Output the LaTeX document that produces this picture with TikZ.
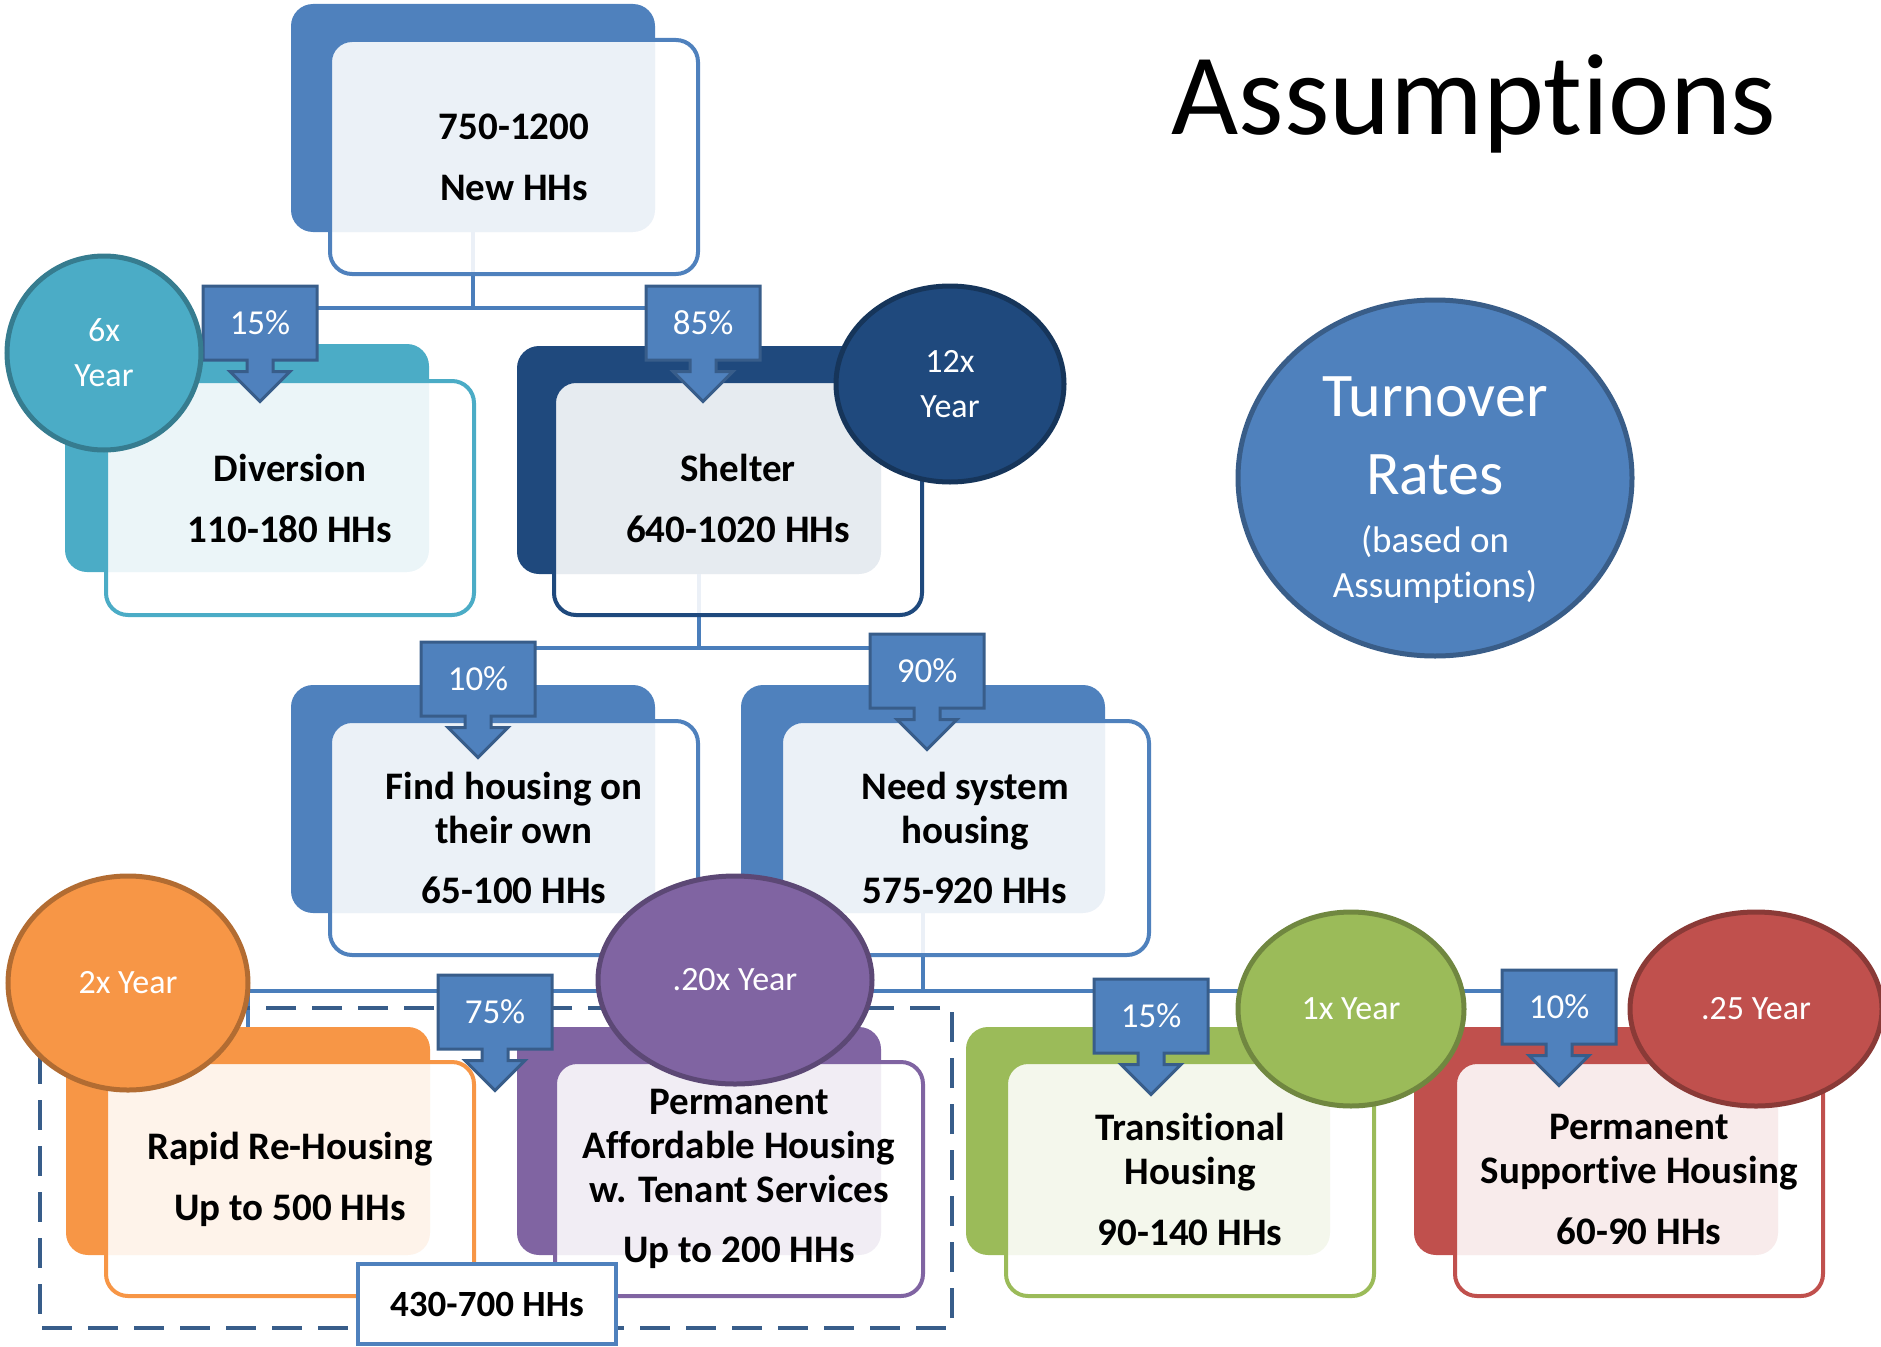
\documentclass[tikz,border=0pt]{standalone}
\usepackage{fontspec}
\setmainfont{Carlito}[Ligatures={NoCommon,NoContextual},Contextuals=NoAlternate]
\usetikzlibrary{shapes.geometric,shapes.arrows}

\definecolor{hhblue}{HTML}{4F81BD}
\definecolor{hhteal}{HTML}{4BACC6}
\definecolor{hhnavy}{HTML}{1F497D}
\definecolor{hhorange}{HTML}{F79646}
\definecolor{hhpurple}{HTML}{8064A2}
\definecolor{hhgreen}{HTML}{9BBB59}
\definecolor{hhred}{HTML}{C0504D}
\definecolor{hhline}{HTML}{4A7EBB}
\definecolor{hhedge}{HTML}{385D8A}

\tikzset{
  backbox/.style={rectangle,rounded corners=22pt,fill=#1,minimum width=364pt,minimum height=228pt},
  frontbox/.style={rectangle,rounded corners=22pt,draw=#1,line width=4pt,fill=white,fill opacity=0.89,text opacity=1,
    minimum width=368pt,minimum height=234pt,inner sep=0pt,align=center,font=\fontsize{39}{44}\selectfont\bfseries},
  pct/.style={shape=arrow box,fill=hhblue,draw=hhedge,line width=3pt,minimum width=114pt,minimum height=74pt,inner sep=0pt,
    arrow box arrows={south:40pt},arrow box shaft width=26pt,arrow box head extend=17pt,
    text=white,font=\fontsize{35}{40}\selectfont},
  ring/.style={ellipse,fill=#1,draw=#1!72!black,line width=5pt,inner sep=0pt,text=white,align=center,
    font=\fontsize{34}{45}\selectfont},
  link/.style={draw=hhline,line width=4.5pt},
}

\begin{document}
\begin{tikzpicture}[x=1pt,y=-1pt]
\useasboundingbox (0,0) rectangle (1881,1346);

\node[font=\fontsize{116}{130}\selectfont] (title) at (1474,104) {Assumptions};

% back shapes
\node[backbox=hhblue] (newbk) at (473,118) {};
\node[backbox=hhteal] (divbk) at (247,458) {};
\node[backbox=hhnavy] (shelbk) at (699,460) {};
\node[backbox=hhblue] (findbk) at (473,799) {};
\node[backbox=hhblue] (needbk) at (923,799) {};
\node[backbox=hhorange] (rrhbk) at (248,1141) {};
\node[backbox=hhpurple] (pahbk) at (699,1141) {};
\node[backbox=hhgreen] (thbk) at (1148,1141) {};
\node[backbox=hhred] (pshbk) at (1596,1141) {};

% org chart lines
\coordinate (j1) at (473,308);
\coordinate (j2) at (699,648);
\coordinate (j3) at (923,991);
\draw[link] (newbk.south) -- (j1) -| (divbk.north);
\draw[link] (j1) -| (shelbk.north);
\draw[link] (shelbk.south) -- (j2) -| (findbk.north);
\draw[link] (j2) -| (needbk.north);
\draw[link] (needbk.south) -- (j3) -| (rrhbk.north);
\draw[link] (j3) -| (pahbk.north);
\draw[link] (j3) -| (thbk.north);
\draw[link] (j3) -| (pshbk.north);

% front boxes
\node[frontbox=hhblue] (new) at (514,157) {750-1200\\[17pt]New HHs};
\node[frontbox=hhteal] (div) at (290,498) {Diversion\\[17pt]110-180 HHs};
\node[frontbox=hhnavy] (shel) at (738,498) {Shelter\\[17pt]640-1020 HHs};
\node[frontbox=hhblue] (find) at (514,838) {Find housing on\\their own\\[16pt]65-100 HHs};
\node[frontbox=hhblue] (need) at (965,838) {Need system\\housing\\[16pt]575-920 HHs};
\node[frontbox=hhorange] (rrh) at (290,1179) {Rapid Re-Housing\\[17pt]Up to 500 HHs};
\node[frontbox=hhpurple] (pah) at (739,1179) {Permanent\\Affordable Housing\\w. Tenant Services\\[16pt]Up to 200 HHs};
\node[frontbox=hhgreen] (th) at (1190,1179) {Transitional\\Housing\\[17pt]90-140 HHs};
\node[frontbox=hhred] (psh) at (1639,1179) {Permanent\\Supportive Housing\\[17pt]60-90 HHs};

\draw[hhedge,line width=4.5pt,dash pattern=on 30pt off 16pt] (40,1008) rectangle (952,1328);

% percentages
\node[pct] (p15a) at (260,323) {15\%};
\node[pct] (p85) at (703,323) {85\%};
\node[pct] (p10a) at (478,679) {10\%};
\node[pct] (p90) at (927,671) {90\%};
\node[pct] (p75) at (495,1012) {75\%};
\node[pct] (p15b) at (1151,1016) {15\%};
\node[pct] (p10b) at (1559,1007) {10\%};

% turnover rates
\node[ring=hhteal,minimum width=194pt,minimum height=194pt] (r6) at (104,353) {6x\\Year};
\node[ring=hhnavy,minimum width=228pt,minimum height=196pt] (r12) at (950,384) {12x\\Year};
\node[ring=hhorange,minimum width=240pt,minimum height=214pt] (r2) at (128,983) {2x Year};
\node[ring=hhpurple,minimum width=274pt,minimum height=208pt] (r20) at (735,980) {.20x Year};
\node[ring=hhgreen,minimum width=226pt,minimum height=194pt] (r1) at (1351,1009) {1x Year};
\node[ring=hhred,minimum width=252pt,minimum height=194pt] (r25) at (1756,1009) {.25 Year};

\node[ring=hhblue,minimum width=394pt,minimum height=356pt] (turn) at (1435,478) {};
\node[text=white,align=center,font=\fontsize{62}{78}\selectfont] (turntxt) at (1435,490)
  {Turnover\\Rates\\[-20pt]{\fontsize{37}{45}\selectfont (based on}\\[-33pt]{\fontsize{37}{45}\selectfont Assumptions)}};

\node[draw=hhblue,line width=4pt,fill=white,minimum width=258pt,minimum height=80pt,
  font=\fontsize{37}{44}\selectfont\bfseries] (tot) at (487,1304) {430-700 HHs};
\end{tikzpicture}
\end{document}
